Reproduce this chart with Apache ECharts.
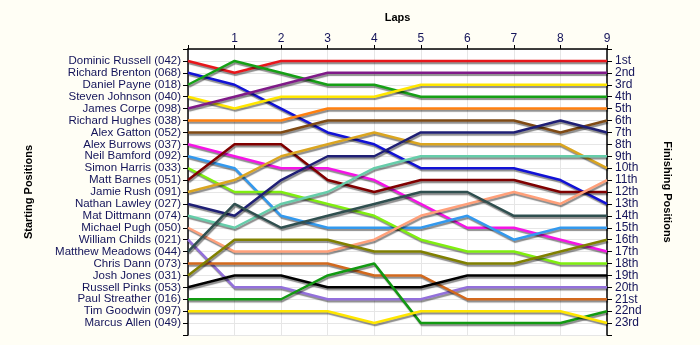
<!DOCTYPE html>
<html>
<head>
<meta charset="utf-8">
<script src="https://cdn.jsdelivr.net/npm/echarts@6/dist/echarts.min.js"></script>
<style>
html,body{margin:0;padding:0;background:#fffef5;}
#c{width:700px;height:345px;}
</style>
</head>
<body>
<div id="c"></div>
<script>
const laps = [0, 1, 2, 3, 4, 5, 6, 7, 8, 9];
const startNames = [
  'Dominic Russell (042)', 'Richard Brenton (068)', 'Daniel Payne (018)', 'Steven Johnson (040)',
  'James Corpe (098)', 'Richard Hughes (038)', 'Alex Gatton (052)', 'Alex Burrows (037)',
  'Neil Bamford (092)', 'Simon Harris (033)', 'Matt Barnes (051)', 'Jamie Rush (091)',
  'Nathan Lawley (027)', 'Mat Dittmann (074)', 'Michael Pugh (050)', 'William Childs (021)',
  'Matthew Meadows (044)', 'Chris Dann (073)', 'Josh Jones (031)', 'Russell Pinks (053)',
  'Paul Streather (016)', 'Tim Goodwin (097)', 'Marcus Allen (049)'
];
const finishLabels = ['1st','2nd','3rd','4th','5th','6th','7th','8th','9th','10th','11th','12th',
  '13th','14th','15th','16th','17th','18th','19th','20th','21st','22nd','23rd'];
// position of each driver at laps 0..9 (in starting order)
const positions = [
  [1, 2, 1, 1, 1, 1, 1, 1, 1, 1],        // Dominic Russell
  [2, 3, 5, 7, 8, 10, 10, 10, 11, 13],   // Richard Brenton
  [3, 1, 2, 3, 3, 4, 4, 4, 4, 4],        // Daniel Payne
  [4, 5, 4, 4, 4, 3, 3, 3, 3, 3],        // Steven Johnson
  [5, 4, 3, 2, 2, 2, 2, 2, 2, 2],        // James Corpe
  [6, 6, 6, 5, 5, 5, 5, 5, 5, 5],        // Richard Hughes
  [7, 7, 7, 6, 6, 6, 6, 6, 7, 6],        // Alex Gatton
  [8, 9, 10, 10, 11, 13, 15, 15, 16, 17],// Alex Burrows
  [9, 10, 14, 15, 15, 15, 14, 16, 15, 15],// Neil Bamford
  [10, 12, 12, 13, 14, 16, 17, 17, 18, 18],// Simon Harris
  [11, 8, 8, 11, 12, 11, 11, 11, 12, 12],// Matt Barnes
  [12, 11, 9, 8, 7, 8, 8, 8, 8, 10],     // Jamie Rush
  [13, 14, 11, 9, 9, 7, 7, 7, 6, 7],     // Nathan Lawley
  [14, 15, 13, 12, 10, 9, 9, 9, 9, 9],   // Mat Dittmann
  [15, 17, 17, 17, 16, 14, 13, 12, 13, 11],// Michael Pugh
  [16, 20, 20, 21, 21, 21, 20, 20, 20, 20],// William Childs
  [17, 13, 15, 14, 13, 12, 12, 14, 14, 14],// Matthew Meadows
  [18, 18, 18, 18, 19, 19, 21, 21, 21, 21],// Chris Dann
  [19, 16, 16, 16, 17, 17, 18, 18, 17, 16],// Josh Jones
  [20, 19, 19, 20, 20, 20, 19, 19, 19, 19],// Russell Pinks
  [21, 21, 21, 19, 18, 23, 23, 23, 23, 22],// Paul Streather
  [22, 22, 22, 22, 23, 22, 22, 22, 22, 23] // Tim Goodwin
];
const colors = [
  '#e8161b', '#1212d6', '#16a016', '#ffe600', '#7f1a88', '#ff8010', '#7f4a14', '#f514e6',
  '#3399ee', '#80ee10', '#800000', '#daa520', '#1f1f75', '#66cdaa', '#ffa07a', '#9370db',
  '#2f4f4f', '#d2691e', '#808000', '#000000', '#129a12', '#ffe600'
];

const series = positions.map((p, i) => ({
  type: 'line',
  name: startNames[i],
  symbol: 'none',
  silent: true,
  animation: false,
  lineStyle: {
    width: 2.5, color: colors[i],
    shadowColor: 'rgba(0,0,0,0.45)', shadowBlur: 1, shadowOffsetX: 1, shadowOffsetY: 2
  },
  data: laps.map((l, j) => [l, p[j]])
}));

const labelColor = '#14145a';
const font = 'Liberation Sans, Arial, sans-serif';
const chart = echarts.init(document.getElementById('c'), null, {renderer: 'canvas'});
chart.setOption({
  backgroundColor: '#fffef5',
  animation: false,
  grid: {left: 188, right: 93, top: 49, bottom: 10, show: true, backgroundColor: '#ffffff', borderWidth: 0},
  xAxis: {
    type: 'value', position: 'top', min: 0, max: 9, interval: 1,
    name: 'Laps', nameLocation: 'middle', nameGap: 26,
    nameTextStyle: {fontWeight: 'bold', fontSize: 11, color: '#000', fontFamily: font},
    axisLine: {show: true, lineStyle: {color: '#000', width: 1.5}},
    axisTick: {show: true, length: 4, lineStyle: {color: '#000'}},
    axisLabel: {fontSize: 12, color: labelColor, fontFamily: font, margin: 4,
      formatter: v => v === 0 ? '' : String(v)},
    splitLine: {show: true, lineStyle: {color: '#e6e6e6', width: 1}}
  },
  yAxis: [
    {
      type: 'value', position: 'left', inverse: true, min: 0, max: 24, interval: 1,
      name: 'Starting Positions', nameLocation: 'middle', nameGap: 154, nameRotate: 90,
      nameTextStyle: {fontWeight: 'bold', fontSize: 11, color: '#000', fontFamily: font},
      axisLine: {show: true, onZero: false, lineStyle: {color: '#000', width: 1.5}},
      axisTick: {show: true, length: 5, lineStyle: {color: '#000'}},
      axisLabel: {fontSize: 11.5, color: labelColor, fontFamily: font, margin: 7,
        formatter: v => startNames[v - 1] || ''},
      splitLine: {show: true, lineStyle: {color: '#e6e6e6', width: 1}}
    },
    {
      type: 'value', position: 'right', inverse: true, min: 0, max: 24, interval: 1,
      name: 'Finishing Positions', nameLocation: 'middle', nameGap: 55, nameRotate: -90,
      nameTextStyle: {fontWeight: 'bold', fontSize: 11, color: '#000', fontFamily: font},
      axisLine: {show: true, onZero: false, lineStyle: {color: '#000', width: 1.5}},
      axisTick: {show: true, length: 5, lineStyle: {color: '#000'}},
      axisLabel: {fontSize: 12, color: labelColor, fontFamily: font, margin: 8,
        formatter: v => finishLabels[v - 1] || ''},
      splitLine: {show: false}
    }
  ],
  series: series
});
</script>
</body>
</html>
